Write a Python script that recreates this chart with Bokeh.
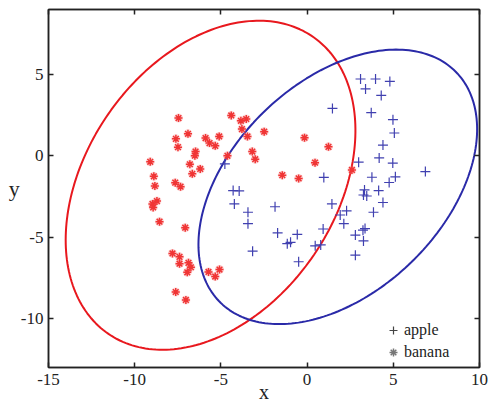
import numpy as np
from bokeh.plotting import figure
from bokeh.models import (Range1d, LinearAxis, Legend, LegendItem,
                          FixedTicker, CustomJSTickFormatter)
from bokeh.embed import file_html
from bokeh.resources import INLINE

# ---------------- data ----------------
apple_x = [3.10, 3.97, 4.80, 3.39, 4.30, 1.47, 3.72, 4.98, 5.06, 4.40,
           4.18, 4.97, 2.99, 6.86, 3.76, 5.12, 4.76, 0.97, 3.33, 3.27,
           3.46, 4.15, 4.40, 3.85, 1.44, 2.29, 1.92, 2.13, -1.86, -4.29,
           -3.94, -4.22, -3.43, -3.43, -1.71, -0.57, -1.15, -0.96, 0.93, 3.24,
           3.36, 2.80, 3.27, 0.47, 0.79, -3.16, -0.49, 2.80, -4.77]
apple_y = [4.73, 4.73, 4.58, 4.12, 3.72, 2.92, 2.66, 2.23, 1.41, 0.67,
           -0.12, -0.44, -0.38, -0.96, -1.31, -1.28, -1.63, -1.32, -2.09, -2.40,
           -2.46, -2.13, -2.86, -3.46, -2.95, -3.37, -3.63, -4.16, -3.12, -2.13,
           -2.15, -2.95, -3.46, -4.16, -4.73, -4.82, -5.39, -5.31, -4.49, -4.56,
           -4.46, -4.86, -5.22, -5.52, -5.47, -5.85, -6.50, -6.10, -0.49]

banana_x = [-7.46, -4.40, -3.84, -3.53, -3.78, -2.49, -6.91, -7.61, -5.89, -5.10,
            -3.46, -5.66, -5.33, -7.49, -6.47, -6.51, -3.18, -3.01, -9.10, -6.80,
            -4.62, -6.20, -6.66, -8.89, -1.44, -0.49, -8.83, -7.65, -7.34, -8.71,
            -8.97, -8.93, -8.56, -7.07, -7.81, -7.40, -7.40, -6.88, -6.74, -6.95,
            -5.72, -5.08, -5.33, -7.62, -7.03, -0.15, 1.24, 0.46, 2.60]
banana_y = [2.33, 2.49, 2.16, 2.27, 1.65, 1.49, 1.36, 1.05, 1.10, 1.20,
            1.20, 0.79, 0.62, 0.54, 0.27, 0.02, 0.27, -0.20, -0.36, -0.51,
            0.01, -0.80, -1.10, -1.25, -1.18, -1.38, -1.84, -1.64, -1.89, -2.77,
            -2.95, -3.16, -4.04, -4.41, -5.99, -6.20, -6.62, -6.57, -6.84, -7.15,
            -7.13, -6.98, -7.41, -8.36, -8.85, 1.12, 0.56, -0.41, -0.86]

# ellipse parameters: centre x, centre y, semi-major, semi-minor, angle (deg)
apple_ellipse = [1.78, -1.90, 9.85, 6.28, 47.9]
banana_ellipse = [-5.60, -1.80, 10.90, 7.35, 59.6]

x_ticks = [-15, -10, -5, 0, 5, 10]
y_ticks = [-10, -5, 0, 5]
x_limits = [-15, 10]
y_limits = [-13, 9]

# ---------------- styles ----------------
FONT = "Liberation Serif"
INK = "#222222"
RED = "#e8181e"
BLUE = "#2a2aa8"
RED_PT = "#f03535"
BLUE_PT = "#4040b0"


def ellipse_outline(params, n=240):
    cx, cy, a, b, ang = params
    th = np.deg2rad(ang)
    t = np.linspace(0, 2 * np.pi, n)
    xs = cx + a * np.cos(th) * np.cos(t) - b * np.sin(th) * np.sin(t)
    ys = cy + a * np.sin(th) * np.cos(t) + b * np.cos(th) * np.sin(t)
    return xs, ys


p = figure(width=488, height=407,
           x_range=Range1d(*x_limits), y_range=Range1d(*y_limits),
           output_backend="svg", toolbar_location=None,
           min_border_left=48, min_border_right=9,
           min_border_top=9, min_border_bottom=40)
p.background_fill_color = "white"
p.border_fill_color = "white"
p.xgrid.grid_line_color = None
p.ygrid.grid_line_color = None
p.outline_line_color = INK
p.outline_line_width = 1.5


def style_axis(ax, ticks, show_labels=True):
    ax.ticker = FixedTicker(ticks=ticks)
    ax.axis_line_color = INK
    ax.axis_line_width = 1.5
    ax.major_tick_line_color = INK
    ax.major_tick_line_width = 1.5
    ax.major_tick_in = 5
    ax.major_tick_out = 0
    ax.minor_tick_line_color = None
    if show_labels:
        ax.formatter = CustomJSTickFormatter(code="return tick.toString()")
        ax.major_label_text_font = FONT
        ax.major_label_text_font_size = "17px"
        ax.major_label_text_color = INK
        ax.axis_label_text_font = FONT
        ax.axis_label_text_font_style = "normal"
        ax.axis_label_text_color = INK
    else:
        ax.formatter = CustomJSTickFormatter(code="return ''")
        ax.major_label_text_font_size = "0px"
        ax.major_label_standoff = 0


xa = p.xaxis[0]
ya = p.yaxis[0]
style_axis(xa, x_ticks)
style_axis(ya, y_ticks)
xa.major_label_standoff = 6
xa.axis_label = "x"
xa.axis_label_text_font_size = "20px"
xa.axis_label_standoff = -7
ya.major_label_standoff = 5
ya.axis_label = "y"
ya.axis_label_text_font_size = "22px"
ya.axis_label_standoff = -2
try:
    ya.axis_label_orientation = "horizontal"
except Exception:
    pass

top_ax = LinearAxis()
right_ax = LinearAxis()
style_axis(top_ax, x_ticks, show_labels=False)
style_axis(right_ax, y_ticks, show_labels=False)
p.add_layout(top_ax, "above")
p.add_layout(right_ax, "right")

# ellipses
bx, by = ellipse_outline(banana_ellipse)
ex, ey = ellipse_outline(apple_ellipse)
p.line(bx, by, line_color=RED, line_width=2)
p.line(ex, ey, line_color=BLUE, line_width=2)

# points
p.scatter(banana_x, banana_y, marker="circle", size=9, fill_color="#f59090",
          fill_alpha=0.35, line_color=None)
p.scatter(banana_x, banana_y, marker="asterisk", size=8, line_color=RED_PT,
          line_width=1.5)
p.scatter(apple_x, apple_y, marker="cross", size=10, line_color=BLUE_PT,
          line_width=1.2)

# legend renderers (hidden, dark markers like the reference legend)
leg_apple = p.scatter(apple_x, apple_y, marker="cross", line_color="#444444",
                      line_width=1.2, visible=False)
leg_banana = p.scatter(banana_x, banana_y, marker="asterisk",
                       line_color="#777777", line_width=1.5, visible=False)
legend = Legend(items=[LegendItem(label="apple", renderers=[leg_apple]),
                       LegendItem(label="banana", renderers=[leg_banana])],
                location=(335, 5), border_line_color=None,
                background_fill_alpha=0, inactive_fill_alpha=0,
                padding=0, margin=0, spacing=2,
                glyph_width=20, glyph_height=20, label_height=20,
                label_standoff=1, label_text_font=FONT,
                label_text_font_size="16px", label_text_color=INK,
                click_policy="none")
p.add_layout(legend)

open("out.html", "w").write(file_html(p, INLINE))
